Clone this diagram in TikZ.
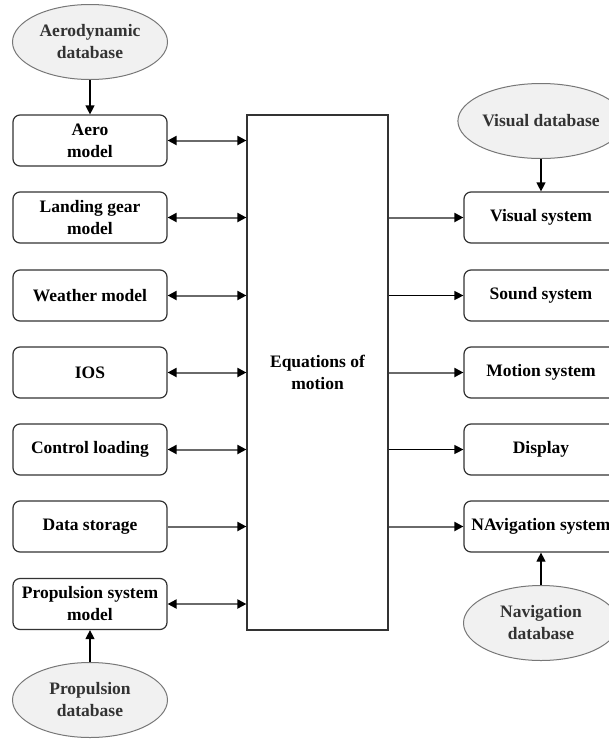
\documentclass[tikz,border=0pt]{standalone}
\usepackage{fontspec}
\setmainfont{Liberation Serif}
\usetikzlibrary{shapes.geometric,arrows.meta}
\definecolor{boxline}{HTML}{333333}
\definecolor{dbfill}{HTML}{F1F1F1}
\definecolor{dbline}{HTML}{777777}
\definecolor{dbtext}{HTML}{333333}
\definecolor{linkgray}{HTML}{6A6A6A}
\begin{document}
\begin{tikzpicture}[x=1pt,y=-1pt,
  txt/.style={font=\fontsize{17.5}{22}\selectfont\bfseries, align=center, text=black},
  block/.style={txt, draw=boxline, line width=1.2pt, rounded corners=7pt,
    minimum width=154pt, minimum height=51pt, inner sep=0pt},
  db/.style={txt, text=dbtext, ellipse, draw=dbline, fill=dbfill, line width=1pt,
    minimum width=155pt, minimum height=75pt, inner sep=0pt},
  core/.style={txt, draw=boxline, line width=1.2pt, minimum width=141pt,
    minimum height=515pt, inner sep=0pt},
  link/.style={draw=linkgray, line width=2pt, -{Triangle[length=9pt,width=9pt,black]}},
  link2/.style={draw=linkgray, line width=2pt, {Triangle[length=9pt,width=9pt,black]}-{Triangle[length=9pt,width=9pt,black]}},
  linkdark/.style={draw=black, line width=1.2pt, -{Triangle[length=9pt,width=9pt,black]}}
]
\useasboundingbox (0,0) rectangle (609,740);

% left column of models
\node[block] (aero)  at (90,140.5) {Aero\\model};
\node[block] (gear)  at (90,217.5) {Landing gear\\model};
\node[block] (wthr)  at (90,295.5) {Weather model};
\node[block] (ios)   at (90,372.5) {IOS};
\node[block] (ctrl)  at (90,449.5) {Control loading};
\node[block] (data)  at (90,526.5) {Data storage};
\node[block] (prop)  at (90,604)   {Propulsion system\\model};

% databases
\node[db] (aerodb) at (90,42)   {Aerodynamic\\database};
\node[db] (propdb) at (90,700)  {Propulsion\\database};
\node[db] (visdb)  at (541,121) {Visual database};
\node[db] (navdb)  at (541,623) {Navigation\\database};

% central block
\node[core] (eq) at (317.5,372.5) {Equations of\\motion};

% right column of outputs
\node[block] (vis)   at (541,217.5) {Visual system};
\node[block] (snd)   at (541,295.5) {Sound system};
\node[block] (mot)   at (541,372.5) {Motion system};
\node[block] (disp)  at (541,449.5) {Display};
\node[block] (nav)   at (541,526.5) {NAvigation system};

% database feeds
\draw[linkdark] (aerodb) -- (aero);
\draw[linkdark] (propdb) -- (prop);
\draw[linkdark] (visdb) -- (vis);
\draw[linkdark] (navdb) -- (nav);

% model links to the equations of motion
\draw[link2] (aero.east) -- (eq.west |- aero.east);
\draw[link2] (gear.east) -- (eq.west |- gear.east);
\draw[link2] (wthr.east) -- (eq.west |- wthr.east);
\draw[link2] (ios.east)  -- (eq.west |- ios.east);
\draw[link2] (ctrl.east) -- (eq.west |- ctrl.east);
\draw[link]  (data.east) -- (eq.west |- data.east);
\draw[link2] (prop.east) -- (eq.west |- prop.east);

% outputs
\draw[link]     (eq.east |- vis.west)  -- (vis.west);
\draw[linkdark] (eq.east |- snd.west)  -- (snd.west);
\draw[link]     (eq.east |- mot.west)  -- (mot.west);
\draw[linkdark] (eq.east |- disp.west) -- (disp.west);
\draw[link]     (eq.east |- nav.west)  -- (nav.west);
\end{tikzpicture}
\end{document}
